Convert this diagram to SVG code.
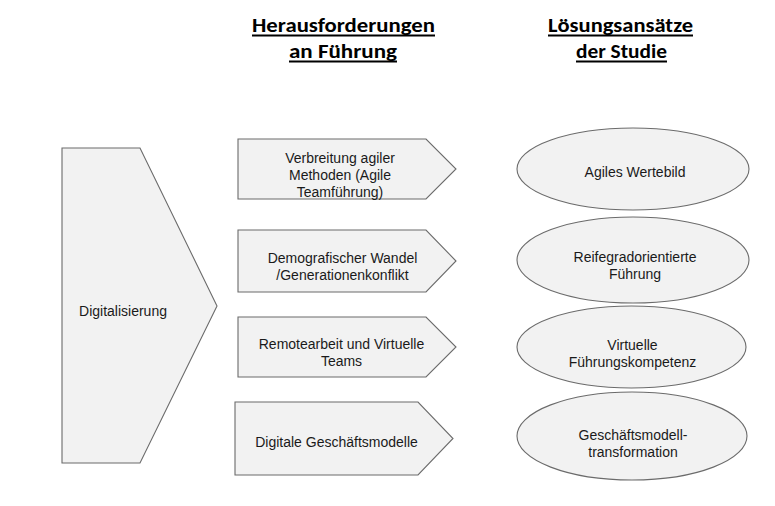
<svg xmlns="http://www.w3.org/2000/svg" width="775" height="506" viewBox="0 0 775 506">
<style>
.shape{fill:#f2f2f2;stroke:#6b6b6b;stroke-width:1.1}
.lbl{font-family:"Liberation Sans",Arial,sans-serif;font-size:14px;fill:#1a1a1a;text-anchor:middle}
.head{font-family:Carlito,Lato,"Open Sans",sans-serif;font-weight:bold;font-size:21px;fill:#000;text-anchor:middle}
.ul{stroke:#000;stroke-width:1.8}
</style>
<rect width="775" height="506" fill="#fff"/>
<g id="headings">
<g id="heading-herausforderungen">
<text class="head" x="343.5" y="32" textLength="183" lengthAdjust="spacingAndGlyphs">Herausforderungen</text>
<line class="ul" x1="252" y1="35.5" x2="435" y2="35.5"/>
<text class="head" x="343" y="58" textLength="108" lengthAdjust="spacingAndGlyphs">an Führung</text>
<line class="ul" x1="289" y1="61.5" x2="397" y2="61.5"/>
</g>
<g id="heading-loesungsansaetze">
<text class="head" x="620.5" y="32" textLength="145" lengthAdjust="spacingAndGlyphs">Lösungsansätze</text>
<line class="ul" x1="548" y1="35.5" x2="693" y2="35.5"/>
<text class="head" x="621.5" y="58" textLength="91" lengthAdjust="spacingAndGlyphs">der Studie</text>
<line class="ul" x1="576" y1="61.5" x2="667" y2="61.5"/>
</g>
</g>
<g id="digitalisierung">
<polygon class="shape" points="62,148 140,148 217,306 140,463 62,463"/>
<text class="lbl" x="123" y="315.5">Digitalisierung</text>
</g>
<g id="challenge-agile">
<polygon class="shape" points="238,139 426,139 456,169 426,199 238,199"/>
<text class="lbl" x="340" y="163">Verbreitung agiler</text>
<text class="lbl" x="340" y="180">Methoden (Agile</text>
<text class="lbl" x="340" y="197">Teamführung)</text>
</g>
<g id="challenge-demografie">
<polygon class="shape" points="238,230 426,230 456,261 426,292 238,292"/>
<text class="lbl" x="342.5" y="262.5">Demografischer Wandel</text>
<text class="lbl" x="342.5" y="279.5">/Generationenkonflikt</text>
</g>
<g id="challenge-remote">
<polygon class="shape" points="238,317 426,317 456,347 426,377 238,377"/>
<text class="lbl" x="341.5" y="349">Remotearbeit und Virtuelle</text>
<text class="lbl" x="341.5" y="366">Teams</text>
</g>
<g id="challenge-geschaeftsmodelle">
<polygon class="shape" points="235,402 418,402 453,438.5 418,475 235,475"/>
<text class="lbl" x="336.5" y="447">Digitale Geschäftsmodelle</text>
</g>
<g id="solution-agiles-wertebild">
<ellipse class="shape" cx="633" cy="169" rx="116" ry="41"/>
<text class="lbl" x="635" y="177">Agiles Wertebild</text>
</g>
<g id="solution-reifegrad">
<ellipse class="shape" cx="633" cy="260" rx="116" ry="43"/>
<text class="lbl" x="635" y="262">Reifegradorientierte</text>
<text class="lbl" x="635" y="279">Führung</text>
</g>
<g id="solution-virtuelle">
<ellipse class="shape" cx="631.5" cy="347" rx="114.5" ry="41"/>
<text class="lbl" x="632.5" y="350">Virtuelle</text>
<text class="lbl" x="632.5" y="367">Führungskompetenz</text>
</g>
<g id="solution-geschaeftsmodell">
<ellipse class="shape" cx="632" cy="436" rx="115" ry="44"/>
<text class="lbl" x="633" y="440">Geschäftsmodell-</text>
<text class="lbl" x="633" y="457">transformation</text>
</g>
<g id="connectors"/>
</svg>
